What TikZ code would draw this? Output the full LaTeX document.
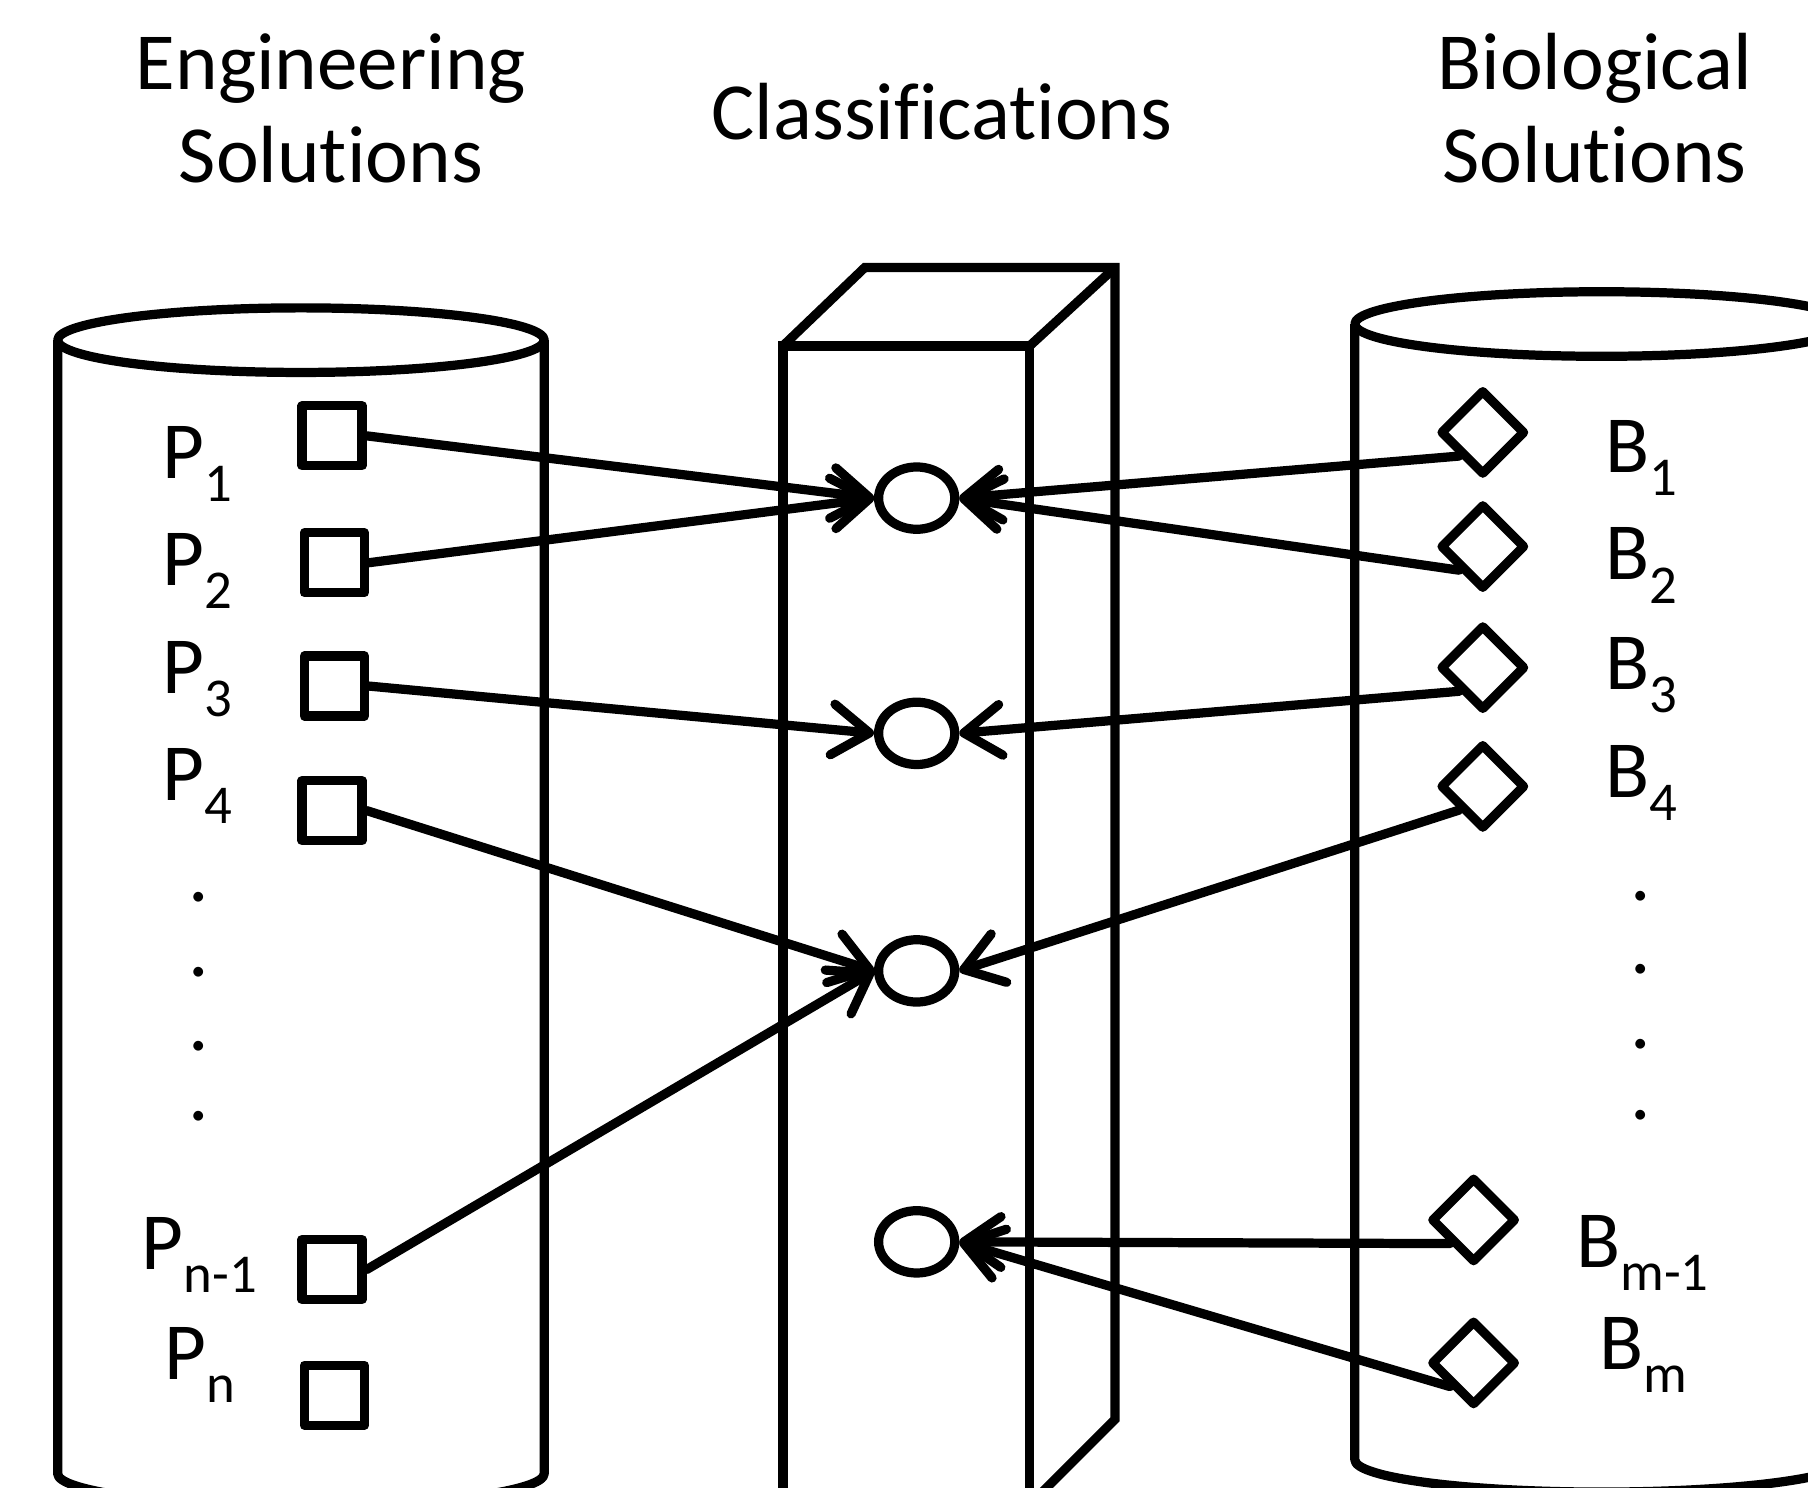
\documentclass[tikz,border=0pt]{standalone}
\usepackage{fontspec}
\setmainfont[Ligatures=NoCommon]{Carlito}
\usetikzlibrary{arrows.meta,shapes.geometric}
\newcommand\sublab[2]{#1\raisebox{-0.20cm}{\fontsize{13.5}{14}\selectfont #2}}
\begin{document}
\begin{tikzpicture}[x=0.01cm,y=-0.01cm, line width=0.08cm,
 heading/.style={font=\fontsize{20}{22}\selectfont, anchor=base, inner sep=0},
 lab/.style={font=\fontsize{20}{22}\selectfont, anchor=base west, inner sep=0},
 dotlab/.style={font=\fontsize{20}{22}\selectfont, anchor=base, inner sep=0, text height=0.08cm, text depth=0pt},
 pbox/.style={draw, rectangle, minimum size=0.52cm, inner sep=0, line join=round},
 bdia/.style={draw, diamond, minimum width=0.74cm, minimum height=0.74cm, inner sep=0, line join=round},
 cls/.style={draw, ellipse, minimum width=0.66cm, minimum height=0.54cm, inner sep=0},
 link/.style={-{Straight Barb[length=0.32cm,width=0.44cm,round]}, line cap=round},
 cyl/.style={line join=round},
 prism/.style={line join=miter}
]
\clip (0,0) rectangle (1568,1290);

% headings
\node[heading] (eng1) at (287,78) {Engineering};
\node[heading] (eng2) at (287,158) {Solutions};
\node[heading] (cls) at (817,121) {Classifications};
\node[heading] (bio1) at (1383,78) {Biological};
\node[heading] (bio2) at (1383,158) {Solutions};

% left cylinder
\draw[cyl] (261,295) ellipse [x radius=211, y radius=28];
\draw[cyl] (50,295) -- (50,1278) arc[start angle=180, end angle=0, x radius=211, y radius=28] -- (472,295);

% right cylinder
\draw[cyl] (1389,281) ellipse [x radius=214, y radius=28];
\draw[cyl] (1175,281) -- (1175,1266) arc[start angle=180, end angle=0, x radius=214, y radius=28] -- (1603,281);

% prism
\draw[prism] (679,1320) -- (679,300) -- (893,300) -- (893,1320);
\draw[prism] (679,300) -- (750,232) -- (967,232) -- (967,1231) -- (880,1318);
\draw[prism] (893,300) -- (967,232);

% engineering boxes
\node[pbox] (p1) at (288,378) {};
\node[pbox] (p2) at (290,488) {};
\node[pbox] (p3) at (290,595) {};
\node[pbox] (p4) at (288,703) {};
\node[pbox] (pn1) at (288,1101) {};
\node[pbox] (pn) at (290,1210) {};

% labels P
\node[lab] (lp1) at (137,415) {\sublab{P}{1}};
\node[lab] (lp2) at (137,508) {\sublab{P}{2}};
\node[lab] (lp3) at (137,601) {\sublab{P}{3}};
\node[lab] (lp4) at (137,694) {\sublab{P}{4}};
\node[lab] (lpn1) at (119,1101) {\sublab{P}{n-1}};
\node[lab] (lpn) at (139,1196) {\sublab{P}{n}};
\node[dotlab] (pd1) at (172,782) {.};
\node[dotlab] (pd2) at (172,847) {.};
\node[dotlab] (pd3) at (172,911) {.};
\node[dotlab] (pd4) at (172,972) {.};

% biological diamonds
\node[bdia] (b1) at (1286,375) {};
\node[bdia] (b2) at (1286,474) {};
\node[bdia] (b3) at (1286,579) {};
\node[bdia] (b4) at (1286,682) {};
\node[bdia] (bm1) at (1278,1058) {};
\node[bdia] (bm) at (1278,1182) {};

% labels B
\node[lab] (lb1) at (1388,410) {\sublab{B}{1}};
\node[lab] (lb2) at (1388,503) {\sublab{B}{2}};
\node[lab] (lb3) at (1388,598) {\sublab{B}{3}};
\node[lab] (lb4) at (1388,692) {\sublab{B}{4}};
\node[lab] (lbm1) at (1363,1099) {\sublab{B}{m-1}};
\node[lab] (lbm) at (1383,1188) {\sublab{B}{m}};
\node[dotlab] (bd1) at (1423,781) {.};
\node[dotlab] (bd2) at (1423,844) {.};
\node[dotlab] (bd3) at (1423,909) {.};
\node[dotlab] (bd4) at (1423,971) {.};

% classification circles
\node[cls] (c1) at (795,432) {};
\node[cls] (c2) at (795,636) {};
\node[cls] (c3) at (795,842) {};
\node[cls] (c4) at (795,1077) {};

% connectors
\draw[link] (p1.east) -- (c1.west);
\draw[link] (p2.east) -- (c1.west);
\draw[link] (p3.east) -- (c2.west);
\draw[link] (p4.east) -- (c3.west);
\draw[link] (pn1.east) -- (c3.west);
\draw[link] (b1.south west) -- (c1.east);
\draw[link] (b2.south west) -- (c1.east);
\draw[link] (b3.south west) -- (c2.east);
\draw[link] (b4.south west) -- (c3.east);
\draw[link] (bm1.south west) -- (c4.east);
\draw[link] (bm.south west) -- (c4.east);
\end{tikzpicture}
\end{document}
